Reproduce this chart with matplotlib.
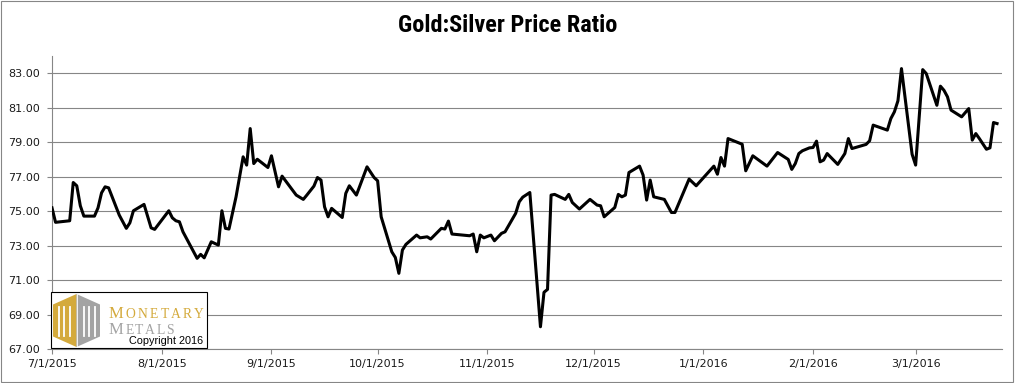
import pandas as pd
import matplotlib
matplotlib.use("Agg")
import matplotlib.pyplot as plt
import matplotlib.dates as mdates
from matplotlib import font_manager
from matplotlib.ticker import FuncFormatter, FormatStrFormatter
from matplotlib.patches import Rectangle, Polygon

# data ###################################################################
title = "Gold:Silver Price Ratio"
start_date = "2015-07-01"
axis_days = 268.4  # x axis runs from 7/1/2015 to about 3/25/2016

# days after 7/1/2015 and the gold:silver ratio
day_offsets = [
    0, 1, 5, 6, 7, 8, 9, 12, 13, 14,
    15, 16, 19, 21, 22, 23, 26, 28, 29, 33,
    34, 35, 36, 37, 41, 42, 43, 45, 47, 48,
    49, 50, 52, 53, 54, 55, 56, 57, 58, 61,
    62, 64, 65, 67, 69, 71, 72, 74, 75, 76,
    77, 78, 79, 82, 83, 84, 86, 89, 91, 92,
    93, 96, 97, 98, 99, 100, 103, 104, 106, 107,
    110, 111, 112, 113, 118, 119, 120, 121, 122, 124,
    125, 127, 128, 131, 132, 133, 135, 138, 139, 140,
    141, 142, 145, 146, 147, 149, 152, 154, 155, 156,
    159, 160, 161, 162, 163, 166, 167, 168, 169, 170,
    173, 175, 176, 180, 182, 187, 188, 189, 190, 191,
    195, 196, 198, 202, 205, 208, 209, 210, 211, 212,
    214, 215, 216, 217, 218, 219, 222, 224, 225, 226,
    230, 231, 232, 236, 237, 238, 239, 240, 243, 244,
    246, 247, 250, 251, 252, 253, 254, 257, 259, 260,
    261, 262, 264, 265, 266, 267,
]
ratio = [
    75.19, 74.35, 74.44, 76.66, 76.47, 75.31, 74.71, 74.71, 75.19, 76.06,
    76.41, 76.35, 74.77, 74.00, 74.32, 75.02, 75.39, 74.03, 73.94, 75.02,
    74.61, 74.44, 74.38, 73.80, 72.26, 72.49, 72.29, 73.22, 73.03, 75.02,
    74.00, 73.96, 75.83, 76.99, 78.15, 77.67, 79.79, 77.76, 78.01, 77.53,
    78.21, 76.41, 77.03, 76.48, 75.93, 75.68, 75.93, 76.45, 76.95, 76.80,
    75.25, 74.67, 75.16, 74.63, 76.03, 76.47, 75.93, 77.57, 76.95, 76.76,
    74.67, 72.64, 72.31, 71.39, 72.74, 73.07, 73.61, 73.45, 73.51, 73.38,
    74.00, 73.96, 74.42, 73.67, 73.57, 73.67, 72.64, 73.61, 73.45, 73.61,
    73.28, 73.71, 73.80, 74.87, 75.54, 75.81, 76.08, 68.29, 70.29, 70.46,
    75.93, 75.97, 75.68, 75.97, 75.50, 75.12, 75.68, 75.35, 75.31, 74.67,
    75.21, 75.97, 75.83, 75.93, 77.24, 77.61, 77.09, 75.64, 76.80, 75.83,
    75.68, 74.92, 74.92, 76.86, 76.47, 77.61, 77.14, 78.11, 77.61, 79.21,
    78.88, 77.34, 78.21, 77.61, 78.40, 78.00, 77.42, 77.76, 78.34, 78.50,
    78.67, 78.69, 79.06, 77.86, 77.96, 78.34, 77.71, 78.34, 79.21, 78.63,
    78.87, 79.08, 79.99, 79.70, 80.37, 80.76, 81.40, 83.27, 78.30, 77.67,
    83.21, 82.98, 81.14, 82.25, 82.01, 81.63, 80.86, 80.47, 80.95, 79.12,
    79.50, 79.21, 78.59, 78.67, 80.14, 80.08,
]
y_ticks = [67, 69, 71, 73, 75, 77, 79, 81, 83]
y_limits = (67, 84)

# helpers ################################################################
def pick_font(wanted, fallback):
    names = {f.name for f in font_manager.fontManager.ttflist}
    for name in wanted:
        if name in names:
            return name
    return fallback

def date_label(x, pos):
    d = mdates.num2date(x)
    return f"{d.month}/{d.day}/{d.year}"

# writes a word letter by letter with a small gap, small caps style
def spaced_word(axis, x, y, word, big, small, gap, **kw):
    renderer = axis.figure.canvas.get_renderer()
    for i, ch in enumerate(word):
        t = axis.text(x, y, ch, fontsize=big if i == 0 else small,
                      va="baseline", **kw)
        box = t.get_window_extent(renderer)
        x = axis.transData.inverted().transform((box.x1, box.y0))[0] + gap
    return x

# figure #################################################################
W, H = 1016, 383
fig = plt.figure(figsize=(W / 100, H / 100), dpi=100, facecolor="white")

grid_grey = "#868686"
text_col = "#1a1a1a"

ax = fig.add_axes([52 / W, 34 / H, 950 / W, 293 / H])
start = pd.Timestamp(start_date)
dates = start + pd.to_timedelta(day_offsets, unit="D")
ax.plot(dates, ratio, color="black", lw=2.2, solid_joinstyle="round", zorder=3)

ax.set_xlim(start, start + pd.Timedelta(days=axis_days))
ax.set_ylim(*y_limits)
ax.set_yticks(y_ticks)
ax.yaxis.set_major_formatter(FormatStrFormatter("%.2f"))
ax.xaxis.set_major_locator(mdates.MonthLocator(bymonthday=1))
ax.xaxis.set_major_formatter(FuncFormatter(date_label))

ax.grid(axis="y", color=grid_grey, lw=0.8)
ax.set_axisbelow(True)
for side in ["top", "right"]:
    ax.spines[side].set_visible(False)
for side in ["left", "bottom"]:
    ax.spines[side].set_color(grid_grey)
    ax.spines[side].set_linewidth(0.8)
ax.tick_params(axis="both", direction="out", length=3.6, width=0.8,
               color=grid_grey, labelsize=8, labelcolor=text_col)
ax.tick_params(axis="y", pad=5)
ax.tick_params(axis="x", pad=3.5)

title_font = pick_font(["Liberation Sans Narrow", "Roboto Condensed"], "DejaVu Sans")
fig.text(0.5, 1 - 26 / H, title, ha="center", va="center", fontsize=17.5,
         fontweight="bold", family=title_font, color="black")

# overlay in pixel units for the frame and the logo box
ov = fig.add_axes([0, 0, 1, 1])
ov.set_xlim(0, W)
ov.set_ylim(H, 0)
ov.axis("off")
ov.add_patch(Rectangle((0.5, 0.5), 1012.5, 381, fill=False, ec=grid_grey, lw=0.8))

gold = "#D4AA3C"
grey = "#A3A3A3"
ov.add_patch(Rectangle((51, 292), 156, 56, fc="white", ec="black", lw=0.8, zorder=4))
ov.add_patch(Polygon([(76.5, 294), (53, 304.5), (53, 336.5), (76.5, 347)],
                     closed=True, fc=gold, ec="none", zorder=5))
ov.add_patch(Polygon([(76.5, 294), (100, 304.5), (100, 336.5), (76.5, 347)],
                     closed=True, fc=grey, ec="none", zorder=5))
for x0 in [58.5, 64, 69.5, 83.5, 89, 94.5]:
    ov.plot([x0, x0], [307, 336], color="white", lw=1.3, zorder=6)
ov.plot([76.5, 76.5], [294, 347], color="white", lw=0.6, zorder=6)

serif = pick_font(["Liberation Serif"], "DejaVu Serif")
spaced_word(ov, 109, 317.5, "MONETARY", 12, 9.8, 2.2, color=gold,
            family=serif, zorder=6)
spaced_word(ov, 109, 333.5, "METALS", 12, 9.8, 1.6, color=grey,
            family=serif, zorder=6)
sans = pick_font(["Liberation Sans"], "DejaVu Sans")
ov.text(129, 344.5, "Copyright 2016", color="black", fontsize=7.8, family=sans,
        va="baseline", zorder=6)

fig.savefig("out.png", dpi=100, facecolor="white")
